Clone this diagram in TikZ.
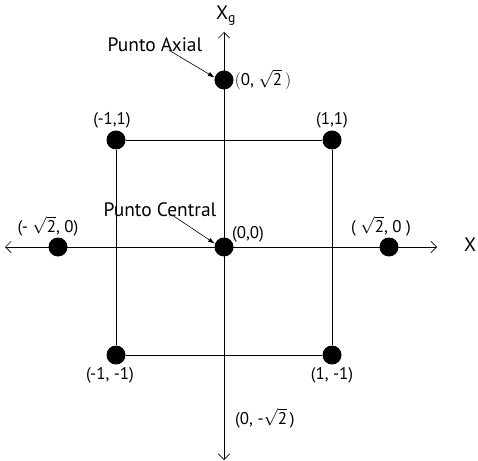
\documentclass[tikz,border=0pt]{standalone}
\usepackage{amsmath}
\usepackage{fontspec}
\setmainfont{PT Sans}
\usepackage{tikz}
\usetikzlibrary{arrows.meta,positioning}
\tikzset{
  ax/.style={{Straight Barb[length=2mm]}-{Straight Barb[length=2mm]},line width=0.6pt},
  sq/.style={line width=0.9pt},
  pt/.style={circle,fill=black,minimum size=19bp,inner sep=0pt},
  lb/.style={font=\fontsize{17}{19}\selectfont,inner sep=1pt},
  tt/.style={font=\fontsize{19.5}{22}\selectfont,inner sep=1pt},
  ar/.style={-{Latex[length=2.4mm,width=1.6mm]},line width=0.6pt}
}
\newcommand{\rdos}{\sqrt{\text{2}}}

\begin{document}
\begin{tikzpicture}[x=1bp,y=-1bp]
\useasboundingbox (0,0) rectangle (478,461);
% axes
\coordinate (xa) at (5,247);
\coordinate (xb) at (437,247);
\coordinate (ya) at (224,460);
\coordinate (yb) at (224,32);
\draw[ax] (xa) -- (xb);
\draw[ax] (ya) -- (yb);
\node[tt] (xl) at (470,245) {X};
\node[tt] (yl) at (226,16) {X$_{\text{g}}$};
% points of the design
\node[pt] (c) at (224,247) {};
\node[pt] (tl) at (116,140) {};
\node[pt] (tr) at (332,140) {};
\node[pt] (bl) at (116,355) {};
\node[pt] (br) at (332,355) {};
\node[pt] (l) at (58,247) {};
\node[pt] (r) at (389,247) {};
\node[pt] (t) at (224,80) {};
\draw[sq] (tl) -- (tr) -- (br) -- (bl) -- (tl);
% coordinates
\node[lb,right=0pt of t] (tlab) {$($0, $\rdos\,)$};
\node[lb,above=1bp of tl,xshift=-4bp] (tllab) {(-1,1)};
\node[lb,above=1bp of tr] (trlab) {(1,1)};
\node[lb,below=2bp of bl,xshift=-6bp] (bllab) {(-1, -1)};
\node[lb,below=2bp of br] (brlab) {(1, -1)};
\node[lb,above=0bp of l,xshift=-10bp] (llab) {(- $\rdos$, 0)};
\node[lb,above=0bp of r,xshift=-8bp] (rlab) {( $\rdos$, 0 )};
\node[lb,above right=-3bp and 0bp of c] (clab) {(0,0)};
\node[lb,anchor=west] (blab) at (234,418) {(0, -$\rdos$\,)};
% names
\node[tt] (pa) at (155,45) {Punto Axial};
\node[tt] (pc) at (160,210) {Punto Central};
\draw[ar] ([xshift=14bp,yshift=3bp]pa.south) -- (t.165);
\draw[ar] ([xshift=14bp,yshift=2bp]pc.south) -- (c.160);
\end{tikzpicture}
\end{document}
